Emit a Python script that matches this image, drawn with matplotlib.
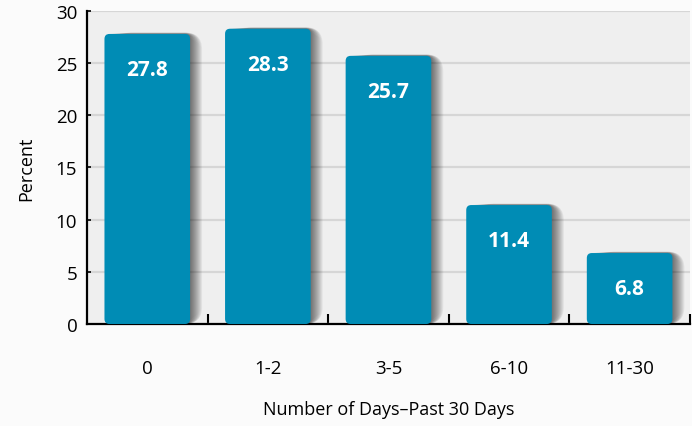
import matplotlib.pyplot as plt
from matplotlib.patches import FancyBboxPatch

plt.rcParams['font.family'] = ['Open Sans', 'DejaVu Sans']

categories = ['0', '1-2', '3-5', '6-10', '11-30']
percent = [27.8, 28.3, 25.7, 11.4, 6.8]

bar_color = '#008cb5'
bar_width = 0.71

fig = plt.figure(figsize=(6.92, 4.27), dpi=100)
fig.patch.set_facecolor('#fbfbfb')
ax = fig.add_axes([0.1257, 0.2389, 0.8713, 0.733])
ax.set_facecolor('#efefef')

ax.set_xlim(-0.5, len(categories) - 0.5)
ax.set_ylim(0, 30)

# grid
ax.set_yticks(range(0, 31, 5))
ax.yaxis.grid(True, color='#d6d6d6', linewidth=1.6)
ax.set_axisbelow(True)

# pixel sizes -> data units (axes ~603 x 313 px)
px_x = (len(categories)) / 603.0
px_y = 30 / 313.0
round_px = 5
aspect = px_y / px_x

for i, v in enumerate(percent):
    x0 = i - bar_width / 2
    # soft shadow on the right
    for k in range(1, 13):
        sh = FancyBboxPatch((x0 + k * px_x, 0), bar_width, v + k * 0.12 * px_y,
                            boxstyle=f'round,pad=0,rounding_size={(round_px + k) * px_x}',
                            mutation_aspect=aspect, facecolor='#000000',
                            edgecolor='none', alpha=0.055, zorder=2)
        ax.add_patch(sh)
    bar = FancyBboxPatch((x0, 0), bar_width, v,
                         boxstyle=f'round,pad=0,rounding_size={round_px * px_x}',
                         mutation_aspect=aspect, facecolor=bar_color,
                         edgecolor='none', zorder=3)
    ax.add_patch(bar)
    ax.text(i, v - 3.4, f'{v:.1f}', ha='center', va='center', color='white',
            fontsize=15, fontweight='bold', zorder=4)

ax.set_xticks(range(len(categories)))
ax.set_xticklabels(categories)
ax.set_xticks([i + 0.5 for i in range(len(categories))], minor=True)
ax.tick_params(axis='x', which='major', length=0, pad=25, labelsize=13.5)
ax.tick_params(axis='x', which='minor', direction='in', length=7, width=1.5,
               color='black')
ax.tick_params(axis='y', direction='in', length=3, width=1.2, labelsize=13.5, pad=7)

for side in ['top', 'right']:
    ax.spines[side].set_visible(False)
for side in ['left', 'bottom']:
    ax.spines[side].set_color('black')
    ax.spines[side].set_linewidth(1.6)

ax.set_ylabel('Percent', fontsize=13, labelpad=15)
ax.set_xlabel('Number of Days\u2013Past 30 Days', fontsize=13, labelpad=17)

fig.savefig('out.png', dpi=100, facecolor=fig.get_facecolor())
